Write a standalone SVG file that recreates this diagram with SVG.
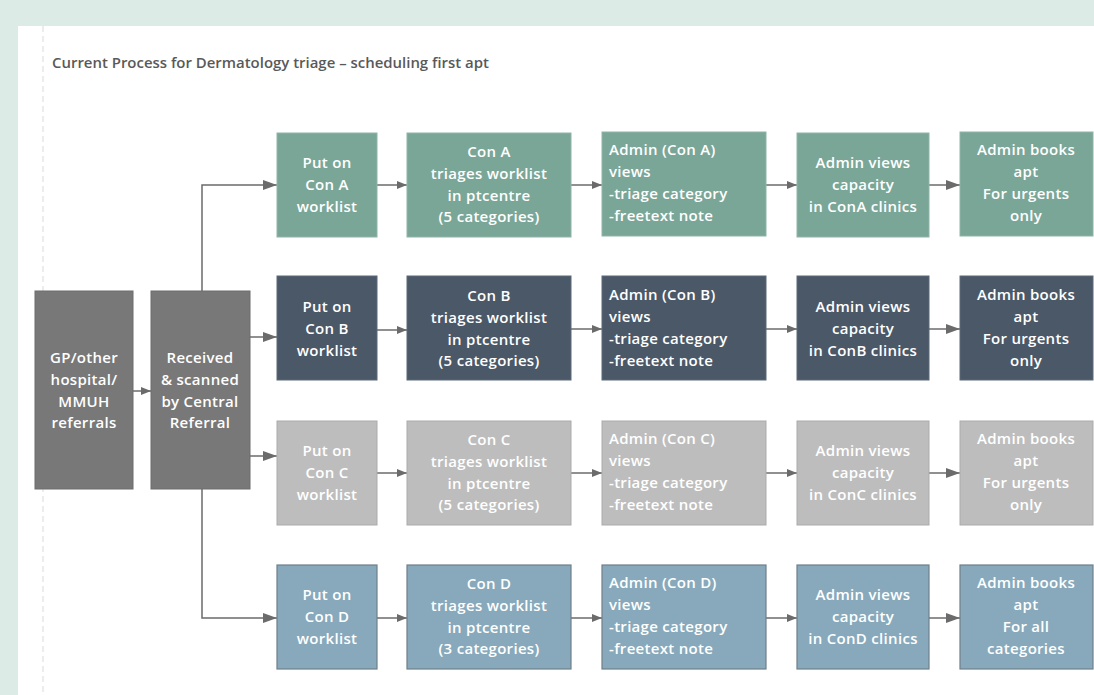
<svg xmlns="http://www.w3.org/2000/svg" width="1094" height="695" viewBox="0 0 1094 695">
<style>
  .t{font-family:"Open Sans","Liberation Sans",sans-serif;font-weight:600;font-size:15px;letter-spacing:0.3px;fill:#ffffff}
  .c{text-anchor:middle}
  .title{font-family:"Open Sans","Liberation Sans",sans-serif;font-weight:600;font-size:14px;fill:#595959}
  .a rect{fill:#7aa698;stroke:#8fb3a7;stroke-width:1}
  .b rect{fill:#4b5868;stroke:#5d6877;stroke-width:1}
  .cc rect{fill:#bdbdbd;stroke:#ababab;stroke-width:1}
  .d rect{fill:#87a9bb;stroke:#6e7f89;stroke-width:1.2}
  .g rect{fill:#787878;stroke:#6c6c6c;stroke-width:1}
  .ln{fill:none;stroke:#6b6b6b;stroke-width:1.5}
</style>
<defs>
  <marker id="big" viewBox="0 0 14 10" refX="14" refY="5" markerWidth="14" markerHeight="10" markerUnits="userSpaceOnUse" orient="auto">
    <path d="M0,0 L14,5 L0,10 Z" fill="#6b6b6b"/>
  </marker>
  <marker id="sm" viewBox="0 0 10 8" refX="10" refY="4" markerWidth="10" markerHeight="8" markerUnits="userSpaceOnUse" orient="auto">
    <path d="M0,0 L10,4 L0,8 Z" fill="#6b6b6b"/>
  </marker>
</defs>
<rect x="0" y="0" width="1094" height="695" fill="#ddebe7"/>
<rect x="18" y="26" width="1076" height="669" fill="#ffffff"/>
<line x1="43" y1="26" x2="43" y2="695" stroke="#d9d9d9" stroke-width="1" stroke-dasharray="6,4"/>
<text class="title" x="52" y="68" textLength="437" lengthAdjust="spacingAndGlyphs">Current Process for Dermatology triage – scheduling first apt</text>

<g id="connectors">
  <path class="ln" d="M133,391 H151" marker-end="url(#sm)"/>
  <path class="ln" d="M202,291 V185 H277" marker-end="url(#big)"/>
  <path class="ln" d="M250,337 H277" marker-end="url(#big)"/>
  <path class="ln" d="M250,456 H277" marker-end="url(#big)"/>
  <path class="ln" d="M202,489 V618 H277" marker-end="url(#big)"/>
  <path class="ln" d="M377,185 H407" marker-end="url(#sm)"/>
  <path class="ln" d="M571,185 H602" marker-end="url(#sm)"/>
  <path class="ln" d="M766,185 H797" marker-end="url(#sm)"/>
  <path class="ln" d="M929,185 H960" marker-end="url(#big)"/>
  <path class="ln" d="M377,330 H407" marker-end="url(#sm)"/>
  <path class="ln" d="M571,329 H602" marker-end="url(#sm)"/>
  <path class="ln" d="M766,329 H797" marker-end="url(#sm)"/>
  <path class="ln" d="M929,329 H960" marker-end="url(#big)"/>
  <path class="ln" d="M377,473 H407" marker-end="url(#sm)"/>
  <path class="ln" d="M571,473 H602" marker-end="url(#sm)"/>
  <path class="ln" d="M766,473 H797" marker-end="url(#sm)"/>
  <path class="ln" d="M929,473 H960" marker-end="url(#big)"/>
  <path class="ln" d="M377,618 H407" marker-end="url(#sm)"/>
  <path class="ln" d="M571,618 H602" marker-end="url(#sm)"/>
  <path class="ln" d="M766,618 H797" marker-end="url(#sm)"/>
  <path class="ln" d="M929,618 H960" marker-end="url(#big)"/>
</g>

<g id="gp" class="g">
  <rect x="35" y="291" width="98" height="198"/>
  <text class="t c" x="84"><tspan x="84" y="363">GP/other</tspan><tspan x="84" y="385">hospital/</tspan><tspan x="84" y="407">MMUH</tspan><tspan x="84" y="428">referrals</tspan></text>
</g>
<g id="received" class="g">
  <rect x="151" y="291" width="99" height="198"/>
  <text class="t c" x="200"><tspan x="200" y="363">Received</tspan><tspan x="200" y="385">&amp; scanned</tspan><tspan x="200" y="407">by Central</tspan><tspan x="200" y="428">Referral</tspan></text>
</g>

<!-- Row A -->
<g id="putA" class="a">
  <rect x="277" y="133" width="100" height="104"/>
  <text class="t c"><tspan x="327" y="168">Put on</tspan><tspan x="327" y="190">Con A</tspan><tspan x="327" y="212">worklist</tspan></text>
</g>
<g id="triageA" class="a">
  <rect x="407" y="133" width="164" height="104"/>
  <text class="t c"><tspan x="489" y="157">Con A</tspan><tspan x="489" y="179">triages worklist</tspan><tspan x="489" y="201">in ptcentre</tspan><tspan x="489" y="222">(5 categories)</tspan></text>
</g>
<g id="adminA" class="a">
  <rect x="602" y="132" width="164" height="104"/>
  <text class="t"><tspan x="609" y="155">Admin (Con A)</tspan><tspan x="609" y="177">views</tspan><tspan x="609" y="199">-triage category</tspan><tspan x="609" y="221">-freetext note</tspan></text>
</g>
<g id="capA" class="a">
  <rect x="797" y="133" width="132" height="104"/>
  <text class="t c"><tspan x="863" y="168">Admin views</tspan><tspan x="863" y="190">capacity</tspan><tspan x="863" y="212">in ConA clinics</tspan></text>
</g>
<g id="bookA" class="a">
  <rect x="960" y="132" width="133" height="104"/>
  <text class="t c"><tspan x="1026" y="155">Admin books</tspan><tspan x="1026" y="177">apt</tspan><tspan x="1026" y="199">For urgents</tspan><tspan x="1026" y="221">only</tspan></text>
</g>

<!-- Row B -->
<g id="putB" class="b">
  <rect x="277" y="276" width="100" height="104"/>
  <text class="t c"><tspan x="327" y="312">Put on</tspan><tspan x="327" y="334">Con B</tspan><tspan x="327" y="356">worklist</tspan></text>
</g>
<g id="triageB" class="b">
  <rect x="407" y="276" width="164" height="104"/>
  <text class="t c"><tspan x="489" y="301">Con B</tspan><tspan x="489" y="323">triages worklist</tspan><tspan x="489" y="345">in ptcentre</tspan><tspan x="489" y="366">(5 categories)</tspan></text>
</g>
<g id="adminB" class="b">
  <rect x="602" y="276" width="164" height="104"/>
  <text class="t"><tspan x="609" y="300">Admin (Con B)</tspan><tspan x="609" y="322">views</tspan><tspan x="609" y="344">-triage category</tspan><tspan x="609" y="366">-freetext note</tspan></text>
</g>
<g id="capB" class="b">
  <rect x="797" y="276" width="132" height="104"/>
  <text class="t c"><tspan x="863" y="312">Admin views</tspan><tspan x="863" y="334">capacity</tspan><tspan x="863" y="356">in ConB clinics</tspan></text>
</g>
<g id="bookB" class="b">
  <rect x="960" y="276" width="133" height="104"/>
  <text class="t c"><tspan x="1026" y="300">Admin books</tspan><tspan x="1026" y="322">apt</tspan><tspan x="1026" y="344">For urgents</tspan><tspan x="1026" y="366">only</tspan></text>
</g>

<!-- Row C -->
<g id="putC" class="cc">
  <rect x="277" y="421" width="100" height="104"/>
  <text class="t c"><tspan x="327" y="456">Put on</tspan><tspan x="327" y="478">Con C</tspan><tspan x="327" y="500">worklist</tspan></text>
</g>
<g id="triageC" class="cc">
  <rect x="407" y="421" width="164" height="104"/>
  <text class="t c"><tspan x="489" y="445">Con C</tspan><tspan x="489" y="467">triages worklist</tspan><tspan x="489" y="489">in ptcentre</tspan><tspan x="489" y="510">(5 categories)</tspan></text>
</g>
<g id="adminC" class="cc">
  <rect x="602" y="421" width="164" height="104"/>
  <text class="t"><tspan x="609" y="444">Admin (Con C)</tspan><tspan x="609" y="466">views</tspan><tspan x="609" y="488">-triage category</tspan><tspan x="609" y="510">-freetext note</tspan></text>
</g>
<g id="capC" class="cc">
  <rect x="797" y="421" width="132" height="104"/>
  <text class="t c"><tspan x="863" y="456">Admin views</tspan><tspan x="863" y="478">capacity</tspan><tspan x="863" y="500">in ConC clinics</tspan></text>
</g>
<g id="bookC" class="cc">
  <rect x="960" y="421" width="133" height="104"/>
  <text class="t c"><tspan x="1026" y="444">Admin books</tspan><tspan x="1026" y="466">apt</tspan><tspan x="1026" y="488">For urgents</tspan><tspan x="1026" y="510">only</tspan></text>
</g>

<!-- Row D -->
<g id="putD" class="d">
  <rect x="277" y="565" width="100" height="104"/>
  <text class="t c"><tspan x="327" y="600">Put on</tspan><tspan x="327" y="622">Con D</tspan><tspan x="327" y="644">worklist</tspan></text>
</g>
<g id="triageD" class="d">
  <rect x="407" y="565" width="164" height="104"/>
  <text class="t c"><tspan x="489" y="589">Con D</tspan><tspan x="489" y="611">triages worklist</tspan><tspan x="489" y="633">in ptcentre</tspan><tspan x="489" y="654">(3 categories)</tspan></text>
</g>
<g id="adminD" class="d">
  <rect x="602" y="565" width="164" height="104"/>
  <text class="t"><tspan x="609" y="588">Admin (Con D)</tspan><tspan x="609" y="610">views</tspan><tspan x="609" y="632">-triage category</tspan><tspan x="609" y="654">-freetext note</tspan></text>
</g>
<g id="capD" class="d">
  <rect x="797" y="565" width="132" height="104"/>
  <text class="t c"><tspan x="863" y="600">Admin views</tspan><tspan x="863" y="622">capacity</tspan><tspan x="863" y="644">in ConD clinics</tspan></text>
</g>
<g id="bookD" class="d">
  <rect x="960" y="565" width="133" height="104"/>
  <text class="t c"><tspan x="1026" y="588">Admin books</tspan><tspan x="1026" y="610">apt</tspan><tspan x="1026" y="632">For all</tspan><tspan x="1026" y="654">categories</tspan></text>
</g>
</svg>
